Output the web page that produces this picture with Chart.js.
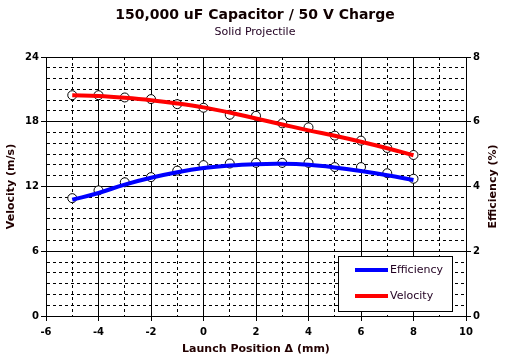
<!DOCTYPE html>
<html lang="en">
<head>
  <meta charset="UTF-8">
  <title>150,000 uF Capacitor / 50 V Charge</title>
  <script src="https://cdn.jsdelivr.net/npm/chart.js"></script>
  <style>
    body {
      margin: 0;
      padding: 0;
      background-color: #fff;
    }
    canvas {
      display: block;
    }
  </style>
</head>
<body>
  <canvas id="capChart" width="505" height="359"></canvas>

  <script>
    // launch position (mm) and measured / fitted values
    const positions = [-5, -4, -3, -2, -1, 0, 1, 2, 3, 4, 5, 6, 7, 8];
    const velocityMeasured = [20.46, 20.46, 20.25, 20.1, 19.63, 19.3, 18.65, 18.55, 17.85, 17.48, 16.71, 16.25, 15.57, 14.92];
    const velocityFit = [20.45, 20.38, 20.22, 20.0, 19.7, 19.33, 18.85, 18.3, 17.75, 17.2, 16.7, 16.15, 15.55, 14.9];
    const efficiencyMeasured = [3.64, 3.88, 4.13, 4.29, 4.49, 4.66, 4.71, 4.73, 4.73, 4.73, 4.6, 4.6, 4.41, 4.24];
    const efficiencyFit = [3.59, 3.8, 4.06, 4.27, 4.44, 4.57, 4.65, 4.69, 4.7, 4.67, 4.59, 4.48, 4.35, 4.2];

    const xTicks = [-6, -4, -2, 0, 2, 4, 6, 8, 10];
    const velocityTicks = [0, 6, 12, 18, 24];
    const efficiencyTicks = [0, 2, 4, 6, 8];

    const FONT = 'Verdana, "DejaVu Sans", sans-serif';

    function pts(xs, ys) {
      return xs.map((x, i) => ({ x: x, y: ys[i] }));
    }

    // small boxed legend inside the plot, lower right
    const boxLegend = {
      id: 'boxLegend',
      afterDatasetsDraw(chart) {
        const ctx = chart.ctx;
        const area = chart.chartArea;
        const w = 114, h = 55;
        const x0 = area.right - 14 - w;
        const y0 = area.bottom - 5 - h;
        ctx.save();
        ctx.fillStyle = '#fff';
        ctx.fillRect(x0, y0, w, h);
        ctx.strokeStyle = '#000';
        ctx.lineWidth = 1;
        ctx.strokeRect(x0 + 0.5, y0 + 0.5, w, h);
        const items = chart.data.datasets.filter(d => d.showInLegend);
        items.forEach((d, i) => {
          const y = y0 + 14 + i * 26;
          ctx.strokeStyle = d.borderColor;
          ctx.lineWidth = 4;
          ctx.beginPath();
          ctx.moveTo(x0 + 17, y);
          ctx.lineTo(x0 + 50, y);
          ctx.stroke();
          ctx.fillStyle = '#202';
          ctx.font = '11px ' + FONT;
          ctx.textBaseline = 'middle';
          ctx.textAlign = 'left';
          ctx.fillText(d.label, x0 + 52, y);
        });
        ctx.restore();
      }
    };

    // right axis title, reading bottom to top like the left one
    const rightTitle = {
      id: 'rightTitle',
      afterDraw(chart) {
        const ctx = chart.ctx;
        const area = chart.chartArea;
        ctx.save();
        ctx.translate(493, (area.top + area.bottom) / 2);
        ctx.rotate(-Math.PI / 2);
        ctx.fillStyle = '#200';
        ctx.font = 'bold 11px ' + FONT;
        ctx.textAlign = 'center';
        ctx.textBaseline = 'middle';
        ctx.fillText('Efficiency (%)', 0, 0);
        ctx.restore();
      }
    };

    const ctx = document.getElementById('capChart').getContext('2d');
    new Chart(ctx, {
      type: 'scatter',
      data: {
        datasets: [
          {
            label: 'Efficiency',
            showInLegend: true,
            data: pts(positions, efficiencyFit),
            yAxisID: 'y1',
            showLine: true,
            borderColor: '#0000ff',
            borderWidth: 4,
            pointRadius: 0,
            tension: 0.4,
            order: 0
          },
          {
            label: 'Velocity',
            showInLegend: true,
            data: pts(positions, velocityFit),
            yAxisID: 'y',
            showLine: true,
            borderColor: '#ff0000',
            borderWidth: 4,
            pointRadius: 0,
            tension: 0.4,
            order: 0
          },
          {
            label: 'Efficiency data',
            data: pts(positions, efficiencyMeasured),
            yAxisID: 'y1',
            showLine: false,
            pointRadius: 4.5,
            pointBackgroundColor: '#fff',
            pointBorderColor: '#000',
            pointBorderWidth: 1,
            order: 1
          },
          {
            label: 'Velocity data',
            data: pts(positions, velocityMeasured),
            yAxisID: 'y',
            showLine: false,
            pointRadius: 4.5,
            pointBackgroundColor: '#fff',
            pointBorderColor: '#000',
            pointBorderWidth: 1,
            order: 1
          }
        ]
      },
      options: {
        responsive: false,
        animation: false,
        devicePixelRatio: 1,
        layout: {
          padding: { left: 5, right: 0, top: 0, bottom: 3 }
        },
        plugins: {
          legend: { display: false },
          tooltip: { enabled: false },
          title: {
            display: true,
            text: '150,000 uF Capacitor / 50 V Charge',
            color: '#100',
            font: { family: FONT, size: 14, weight: 'bold' },
            padding: { top: 7, bottom: 0 }
          },
          subtitle: {
            display: true,
            text: 'Solid Projectile',
            color: '#202',
            font: { family: FONT, size: 11 },
            padding: { top: 2, bottom: 18 }
          }
        },
        scales: {
          x: {
            type: 'linear',
            min: -6,
            max: 10,
            afterFit: s => { s.height = 40; },
            ticks: {
              stepSize: 1,
              autoSkip: false,
              maxRotation: 0,
              padding: 5,
              color: '#000',
              font: { family: FONT, size: 10, weight: 'bold' },
              callback: v => xTicks.includes(v) ? v : ''
            },
            grid: {
              color: '#000',
              lineWidth: 1,
              tickLength: 5,
              tickColor: c => xTicks.includes(c.tick.value) ? '#000' : 'rgba(0,0,0,0)'
            },
            border: {
              color: '#000',
              dash: c => (c.tick && !xTicks.includes(c.tick.value)) ? [3, 3] : []
            },
            title: {
              display: true,
              text: 'Launch Position \u0394 (mm)',
              color: '#200',
              font: { family: FONT, size: 11, weight: 'bold' },
              padding: 0
            }
          },
          y: {
            position: 'left',
            min: 0,
            max: 24,
            afterFit: s => { s.width = 41; },
            ticks: {
              stepSize: 1,
              autoSkip: false,
              padding: 2,
              color: '#000',
              font: { family: FONT, size: 10, weight: 'bold' },
              callback: v => velocityTicks.includes(v) ? v : ''
            },
            grid: {
              color: '#000',
              lineWidth: 1,
              tickLength: 5,
              tickColor: c => velocityTicks.includes(c.tick.value) ? '#000' : 'rgba(0,0,0,0)'
            },
            border: {
              color: '#000',
              dash: c => (c.tick && !velocityTicks.includes(c.tick.value)) ? [3, 3] : []
            },
            title: {
              display: true,
              text: 'Velocity (m/s)',
              color: '#200',
              font: { family: FONT, size: 11, weight: 'bold' },
              padding: 0
            }
          },
          y1: {
            position: 'right',
            min: 0,
            max: 8,
            afterFit: s => { s.width = 39; },
            ticks: {
              stepSize: 2,
              padding: 2,
              color: '#000',
              font: { family: FONT, size: 10, weight: 'bold' },
              callback: v => efficiencyTicks.includes(v) ? v : ''
            },
            grid: {
              drawOnChartArea: false,
              color: '#000',
              tickLength: 5
            },
            border: { color: '#000' }
          }
        }
      },
      plugins: [boxLegend, rightTitle]
    });
  </script>
</body>
</html>
